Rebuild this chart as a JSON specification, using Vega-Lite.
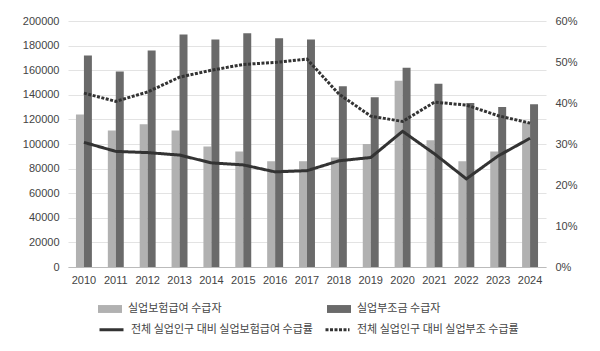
{
  "$schema": "https://vega.github.io/schema/vega-lite/v6.json",
  "width": 478,
  "height": 246,
  "padding": {"left": 22, "top": 15, "right": 5, "bottom": 5},
  "background": "white",
  "config": {
    "view": {"stroke": null},
    "font": "Liberation Sans",
    "axis": {"labelFont": "Liberation Sans", "labelFontSize": 11, "labelColor": "#444", "ticks": false, "title": null},
    "legend": {"labelFont": "Noto Sans CJK KR", "labelFontSize": 11, "labelColor": "#444", "labelLimit": 400}
  },
  "datasets": {
    "bars": [
      {"year": "2010", "series": "실업보험급여 수급자", "value": 124000},
      {"year": "2011", "series": "실업보험급여 수급자", "value": 111000},
      {"year": "2012", "series": "실업보험급여 수급자", "value": 116000},
      {"year": "2013", "series": "실업보험급여 수급자", "value": 111000},
      {"year": "2014", "series": "실업보험급여 수급자", "value": 98000},
      {"year": "2015", "series": "실업보험급여 수급자", "value": 94000},
      {"year": "2016", "series": "실업보험급여 수급자", "value": 86000},
      {"year": "2017", "series": "실업보험급여 수급자", "value": 86000},
      {"year": "2018", "series": "실업보험급여 수급자", "value": 89000},
      {"year": "2019", "series": "실업보험급여 수급자", "value": 100000},
      {"year": "2020", "series": "실업보험급여 수급자", "value": 151500},
      {"year": "2021", "series": "실업보험급여 수급자", "value": 103000},
      {"year": "2022", "series": "실업보험급여 수급자", "value": 86000},
      {"year": "2023", "series": "실업보험급여 수급자", "value": 94000},
      {"year": "2024", "series": "실업보험급여 수급자", "value": 117500},
      {"year": "2010", "series": "실업부조금 수급자", "value": 172000},
      {"year": "2011", "series": "실업부조금 수급자", "value": 159000},
      {"year": "2012", "series": "실업부조금 수급자", "value": 176000},
      {"year": "2013", "series": "실업부조금 수급자", "value": 189000},
      {"year": "2014", "series": "실업부조금 수급자", "value": 185000},
      {"year": "2015", "series": "실업부조금 수급자", "value": 190000},
      {"year": "2016", "series": "실업부조금 수급자", "value": 186000},
      {"year": "2017", "series": "실업부조금 수급자", "value": 185000},
      {"year": "2018", "series": "실업부조금 수급자", "value": 147000},
      {"year": "2019", "series": "실업부조금 수급자", "value": 138000},
      {"year": "2020", "series": "실업부조금 수급자", "value": 162000},
      {"year": "2021", "series": "실업부조금 수급자", "value": 149000},
      {"year": "2022", "series": "실업부조금 수급자", "value": 133300},
      {"year": "2023", "series": "실업부조금 수급자", "value": 130000},
      {"year": "2024", "series": "실업부조금 수급자", "value": 132300}
    ],
    "lines": [
      {"year": "2010", "series": "전체 실업인구 대비 실업보험급여 수급률", "rate": 0.304},
      {"year": "2011", "series": "전체 실업인구 대비 실업보험급여 수급률", "rate": 0.282},
      {"year": "2012", "series": "전체 실업인구 대비 실업보험급여 수급률", "rate": 0.279},
      {"year": "2013", "series": "전체 실업인구 대비 실업보험급여 수급률", "rate": 0.273},
      {"year": "2014", "series": "전체 실업인구 대비 실업보험급여 수급률", "rate": 0.254},
      {"year": "2015", "series": "전체 실업인구 대비 실업보험급여 수급률", "rate": 0.249},
      {"year": "2016", "series": "전체 실업인구 대비 실업보험급여 수급률", "rate": 0.232},
      {"year": "2017", "series": "전체 실업인구 대비 실업보험급여 수급률", "rate": 0.235},
      {"year": "2018", "series": "전체 실업인구 대비 실업보험급여 수급률", "rate": 0.259},
      {"year": "2019", "series": "전체 실업인구 대비 실업보험급여 수급률", "rate": 0.267},
      {"year": "2020", "series": "전체 실업인구 대비 실업보험급여 수급률", "rate": 0.331},
      {"year": "2021", "series": "전체 실업인구 대비 실업보험급여 수급률", "rate": 0.276},
      {"year": "2022", "series": "전체 실업인구 대비 실업보험급여 수급률", "rate": 0.215},
      {"year": "2023", "series": "전체 실업인구 대비 실업보험급여 수급률", "rate": 0.271},
      {"year": "2024", "series": "전체 실업인구 대비 실업보험급여 수급률", "rate": 0.314},
      {"year": "2010", "series": "전체 실업인구 대비 실업부조 수급률", "rate": 0.424},
      {"year": "2011", "series": "전체 실업인구 대비 실업부조 수급률", "rate": 0.404},
      {"year": "2012", "series": "전체 실업인구 대비 실업부조 수급률", "rate": 0.427},
      {"year": "2013", "series": "전체 실업인구 대비 실업부조 수급률", "rate": 0.463},
      {"year": "2014", "series": "전체 실업인구 대비 실업부조 수급률", "rate": 0.480},
      {"year": "2015", "series": "전체 실업인구 대비 실업부조 수급률", "rate": 0.494},
      {"year": "2016", "series": "전체 실업인구 대비 실업부조 수급률", "rate": 0.499},
      {"year": "2017", "series": "전체 실업인구 대비 실업부조 수급률", "rate": 0.507},
      {"year": "2018", "series": "전체 실업인구 대비 실업부조 수급률", "rate": 0.422},
      {"year": "2019", "series": "전체 실업인구 대비 실업부조 수급률", "rate": 0.368},
      {"year": "2020", "series": "전체 실업인구 대비 실업부조 수급률", "rate": 0.355},
      {"year": "2021", "series": "전체 실업인구 대비 실업부조 수급률", "rate": 0.402},
      {"year": "2022", "series": "전체 실업인구 대비 실업부조 수급률", "rate": 0.395},
      {"year": "2023", "series": "전체 실업인구 대비 실업부조 수급률", "rate": 0.369},
      {"year": "2024", "series": "전체 실업인구 대비 실업부조 수급률", "rate": 0.351}
    ]
  },
  "encoding": {
    "x": {
      "field": "year", "type": "nominal",
      "scale": {"paddingInner": 0.5, "paddingOuter": 0.25},
      "axis": {"labelAngle": 0, "domainColor": "#bbb", "labelPadding": 7, "grid": false}
    }
  },
  "layer": [
    {
      "data": {"name": "bars"},
      "mark": {"type": "bar"},
      "encoding": {
        "xOffset": {"field": "series", "type": "nominal", "sort": ["실업보험급여 수급자", "실업부조금 수급자"]},
        "y": {
          "field": "value", "type": "quantitative",
          "scale": {"domain": [0, 200000]},
          "axis": {"values": [0, 20000, 40000, 60000, 80000, 100000, 120000, 140000, 160000, 180000, 200000], "format": "d", "domain": false, "gridColor": "#e3e3e3", "labelPadding": 9}
        },
        "color": {
          "field": "series", "type": "nominal",
          "scale": {"domain": ["실업보험급여 수급자", "실업부조금 수급자"], "range": ["#b1b1b1", "#6a6a6a"]},
          "legend": {
            "title": null, "orient": "none", "legendX": 30, "legendY": 276, "direction": "horizontal", "columns": 2, "columnPadding": 105,
            "symbolType": "M-1,-0.33H1V0.33H-1Z", "symbolSize": 576, "symbolStrokeWidth": 0, "labelOffset": 6
          }
        }
      }
    },
    {
      "data": {"name": "lines"},
      "mark": {"type": "line", "color": "#333", "strokeWidth": 3},
      "encoding": {
        "y": {
          "field": "rate", "type": "quantitative",
          "scale": {"domain": [0, 0.6]},
          "axis": {"orient": "right", "values": [0, 0.1, 0.2, 0.3, 0.4, 0.5, 0.6], "format": ".0%", "domain": false, "grid": false, "labelPadding": 9}
        },
        "strokeDash": {
          "field": "series", "type": "nominal",
          "scale": {"domain": ["전체 실업인구 대비 실업보험급여 수급률", "전체 실업인구 대비 실업부조 수급률"], "range": [[1, 0], [3, 1.5]]},
          "legend": {
            "title": null, "orient": "none", "legendX": 30, "legendY": 295, "direction": "horizontal", "columns": 2, "columnPadding": 6,
            "symbolType": "stroke", "symbolSize": 576, "symbolStrokeWidth": 3, "symbolStrokeColor": "#333", "labelOffset": 6
          }
        }
      }
    }
  ],
  "resolve": {"scale": {"y": "independent"}}
}
